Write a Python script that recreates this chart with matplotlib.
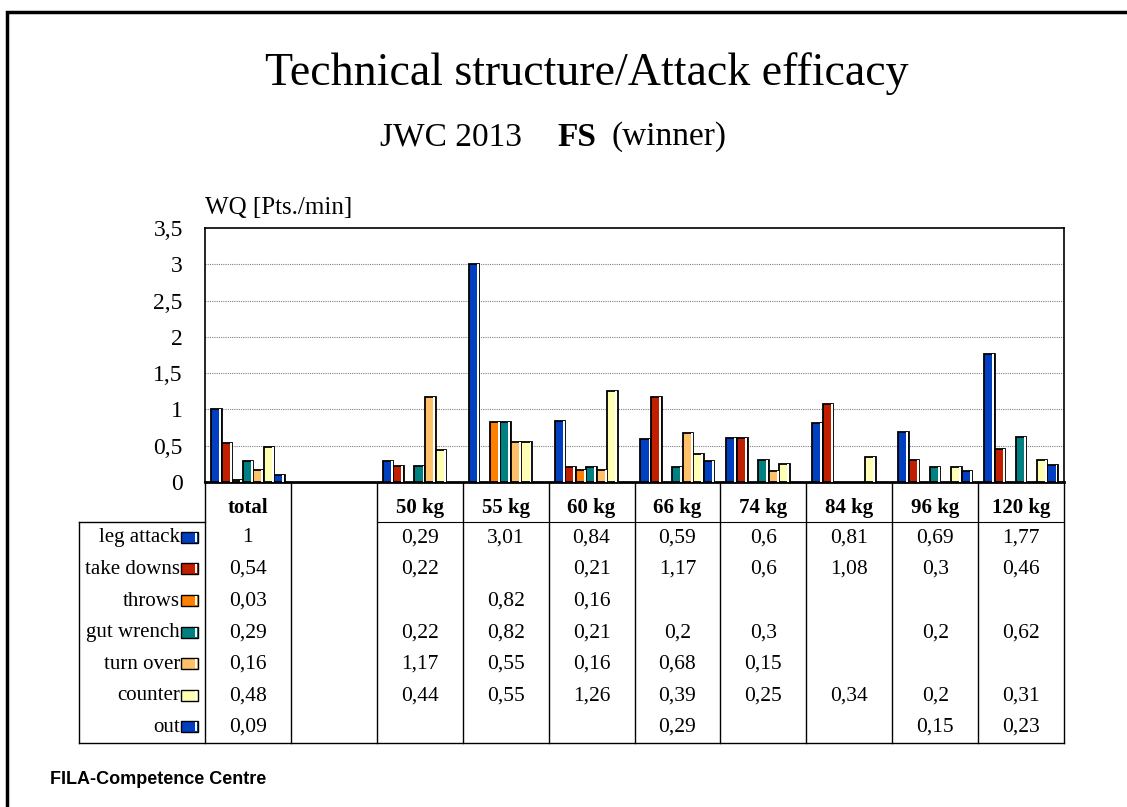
import numpy as np
import matplotlib
matplotlib.use('Agg')
import matplotlib.pyplot as plt
from matplotlib.patches import Rectangle

W, H = 1127, 807
nan = np.nan

categories = ['total', '', '50 kg', '55 kg', '60 kg', '66 kg', '74 kg', '84 kg', '96 kg', '120 kg']
series = ['leg attack', 'take downs', 'throws', 'gut wrench', 'turn over', 'counter', 'out']
leg_attack = [1, nan, 0.29, 3.01, 0.84, 0.59, 0.6, 0.81, 0.69, 1.77]
take_downs = [0.54, nan, 0.22, nan, 0.21, 1.17, 0.6, 1.08, 0.3, 0.46]
throws = [0.03, nan, nan, 0.82, 0.16, nan, nan, nan, nan, nan]
gut_wrench = [0.29, nan, 0.22, 0.82, 0.21, 0.2, 0.3, nan, 0.2, 0.62]
turn_over = [0.16, nan, 1.17, 0.55, 0.16, 0.68, 0.15, nan, nan, nan]
counter = [0.48, nan, 0.44, 0.55, 1.26, 0.39, 0.25, 0.34, 0.2, 0.31]
out = [0.09, nan, nan, nan, nan, 0.29, nan, nan, 0.15, 0.23]
values = [leg_attack, take_downs, throws, gut_wrench, turn_over, counter, out]
colors = ['#0040C0', '#C02000', '#FF8000', '#008080', '#FFC06A', '#FFFFB4', '#0040C0']

serif = 'Liberation Serif'


def fx(x):
    return x / W


def fy(y):
    return 1 - y / H


def fmt(v):
    return '' if np.isnan(v) else format(v, 'g').replace('.', ',')


fig = plt.figure(figsize=(W / 100, H / 100), dpi=100)

# outer frame
fig.patches.append(Rectangle((fx(7), fy(H + 20)), 1.2, fy(12) - fy(H + 20), transform=fig.transFigure,
                             fill=False, edgecolor='black', linewidth=2.5))

# main bar axes
left, right, top, bottom = 205, 1064, 228, 482
ax = fig.add_axes([fx(left), fy(bottom), fx(right - left), (bottom - top) / H])
x = np.arange(len(categories))
bw = 0.123
for i, (vals, c) in enumerate(zip(values, colors)):
    v = np.array(vals, dtype=float)
    xs = x + (i - 3) * bw
    ax.bar(xs, v, width=bw, color=c, edgecolor='black', linewidth=1.3, zorder=3)
    ax.bar(xs + bw / 2 - 0.018, v, width=0.022, color='white', linewidth=0, zorder=4)

ax.set_xlim(-0.5, len(categories) - 0.5)
ax.set_ylim(0, 3.5)
ax.set_yticks(np.arange(0, 3.51, 0.5))
ax.set_yticklabels([format(t, 'g').replace('.', ',') for t in np.arange(0, 3.51, 0.5)],
                   fontfamily=serif, fontsize=17)
ax.tick_params(axis='y', length=0, pad=16)
ax.set_xticks([])
for t in np.arange(0.5, 3.01, 0.5):
    ax.axhline(t, color='#808080', linestyle=(0, (1, 1)), linewidth=0.8, zorder=1)
for s in ax.spines.values():
    s.set_linewidth(1.2)
ax.spines['bottom'].set_linewidth(2)

# table drawn in pixel space
tb = fig.add_axes([0, 0, 1, 1], facecolor='none')
tb.set_xlim(0, W)
tb.set_ylim(H, 0)
tb.axis('off')

colw = (right - left) / len(categories)
row_top, row_h = 522, 31.6
tab_bottom = row_top + row_h * len(series)
legl = 79
for k in range(len(categories) + 1):
    xx = left + k * colw
    tb.plot([xx, xx], [bottom + 1, tab_bottom], color='black', linewidth=1)
tb.plot([legl, right], [tab_bottom, tab_bottom], color='black', linewidth=1)
tb.plot([legl, legl], [row_top, tab_bottom], color='black', linewidth=1)
tb.plot([legl, left], [row_top, row_top], color='black', linewidth=1)
tb.plot([left + 2 * colw, right], [row_top, row_top], color='black', linewidth=0.8)

for k, cat in enumerate(categories):
    tb.text(left + (k + 0.5) * colw, 508, cat, ha='center', va='center',
            fontfamily=serif, fontsize=15, fontweight='bold')

for r, (name, vals, c) in enumerate(zip(series, values, colors)):
    yc = row_top + (r + 0.5) * row_h
    tb.text(180, yc, name, ha='right', va='center', fontfamily=serif, fontsize=15)
    tb.add_patch(Rectangle((181, yc - 6), 17, 11, facecolor=c, edgecolor='black', linewidth=1))
    tb.add_patch(Rectangle((195, yc - 5), 2, 9, facecolor='white', linewidth=0))
    for k, v in enumerate(vals):
        tb.text(left + (k + 0.5) * colw, yc, fmt(v), ha='center', va='center',
                fontfamily=serif, fontsize=15.5)

# titles
fig.text(fx(587), fy(74), 'Technical structure/Attack efficacy', ha='center', va='center',
         fontfamily=serif, fontsize=33)
fig.text(fx(380), fy(137), 'JWC 2013', ha='left', va='center', fontfamily=serif, fontsize=24)
fig.text(fx(557), fy(137), 'FS', ha='left', va='center', fontfamily=serif, fontsize=24, fontweight='bold')
fig.text(fx(612), fy(137), '(winner)', ha='left', va='center', fontfamily=serif, fontsize=24)
fig.text(fx(205), fy(208), 'WQ [Pts./min]', ha='left', va='center', fontfamily=serif, fontsize=18)
fig.text(fx(50), fy(779), 'FILA-Competence Centre', ha='left', va='center',
         fontfamily='Liberation Sans', fontsize=13, fontweight='bold')

fig.savefig('out.png', dpi=100)
